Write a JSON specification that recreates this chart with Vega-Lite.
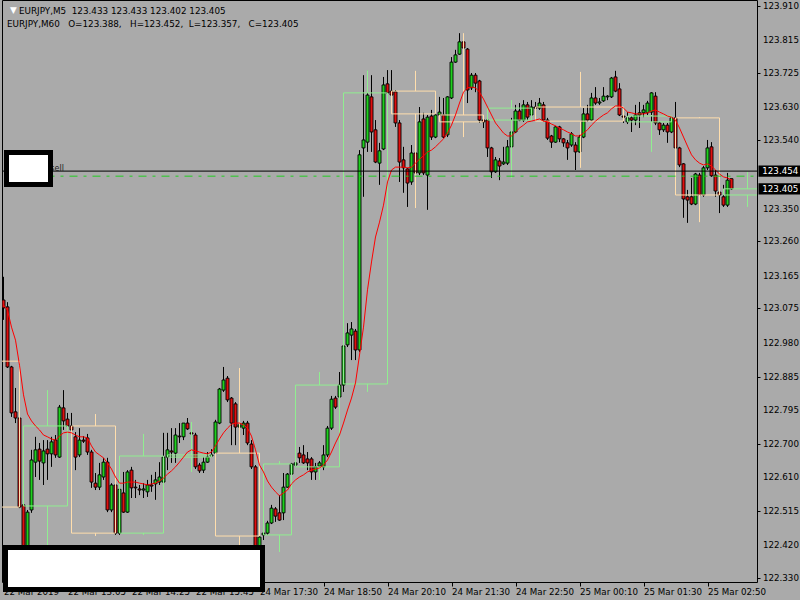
{
"$schema":"https://vega.github.io/schema/vega-lite/v6.json",
"width":755,"height":582,"autosize":"none",
"padding":{"left":2,"top":0,"right":43,"bottom":18},
"background":"#AAAAAA",
"config":{"view":{"stroke":"black","strokeWidth":1,"fill":"#AAAAAA"},"font":"DejaVu Sans",
"axis":{"labelFont":"DejaVu Sans","labelFontSize":8.7,"labelColor":"black","tickColor":"black","domain":false,"grid":false,"labelOverlap":false,"labelFlush":false}},
"datasets":{
"candles":[
{"i":0,"o":123.098,"h":123.162,"l":123.043,"c":123.076,"ma":123.084},
{"i":1,"o":123.079,"h":123.092,"l":122.910,"c":122.913,"ma":123.070},
{"i":2,"o":122.913,"h":122.916,"l":122.775,"c":122.786,"ma":123.023},
{"i":3,"o":122.789,"h":122.855,"l":122.758,"c":122.772,"ma":122.987},
{"i":4,"o":122.772,"h":122.778,"l":122.523,"c":122.526,"ma":122.918},
{"i":5,"o":122.532,"h":122.537,"l":122.352,"c":122.380,"ma":122.836},
{"i":6,"o":122.394,"h":122.518,"l":122.366,"c":122.512,"ma":122.783},
{"i":7,"o":122.518,"h":122.684,"l":122.510,"c":122.656,"ma":122.764},
{"i":8,"o":122.650,"h":122.720,"l":122.609,"c":122.684,"ma":122.750},
{"i":9,"o":122.686,"h":122.703,"l":122.601,"c":122.653,"ma":122.739},
{"i":10,"o":122.648,"h":122.711,"l":122.587,"c":122.681,"ma":122.725},
{"i":11,"o":122.686,"h":122.711,"l":122.601,"c":122.673,"ma":122.720},
{"i":12,"o":122.673,"h":122.720,"l":122.637,"c":122.706,"ma":122.714},
{"i":13,"o":122.711,"h":122.725,"l":122.662,"c":122.670,"ma":122.711},
{"i":14,"o":122.664,"h":122.808,"l":122.662,"c":122.802,"ma":122.722},
{"i":15,"o":122.800,"h":122.849,"l":122.739,"c":122.764,"ma":122.731},
{"i":16,"o":122.769,"h":122.786,"l":122.739,"c":122.750,"ma":122.733},
{"i":17,"o":122.750,"h":122.786,"l":122.720,"c":122.739,"ma":122.731},
{"i":18,"o":122.720,"h":122.733,"l":122.628,"c":122.664,"ma":122.725},
{"i":19,"o":122.670,"h":122.744,"l":122.664,"c":122.711,"ma":122.720},
{"i":20,"o":122.711,"h":122.722,"l":122.703,"c":122.708,"ma":122.720},
{"i":21,"o":122.717,"h":122.728,"l":122.670,"c":122.678,"ma":122.717},
{"i":22,"o":122.678,"h":122.684,"l":122.579,"c":122.595,"ma":122.695},
{"i":23,"o":122.592,"h":122.620,"l":122.573,"c":122.581,"ma":122.678},
{"i":24,"o":122.581,"h":122.648,"l":122.573,"c":122.615,"ma":122.670},
{"i":25,"o":122.609,"h":122.662,"l":122.601,"c":122.650,"ma":122.662},
{"i":26,"o":122.650,"h":122.662,"l":122.512,"c":122.518,"ma":122.648},
{"i":27,"o":122.518,"h":122.592,"l":122.512,"c":122.587,"ma":122.631},
{"i":28,"o":122.587,"h":122.587,"l":122.449,"c":122.454,"ma":122.609},
{"i":29,"o":122.454,"h":122.584,"l":122.449,"c":122.575,"ma":122.592},
{"i":30,"o":122.565,"h":122.623,"l":122.510,"c":122.512,"ma":122.592},
{"i":31,"o":122.512,"h":122.628,"l":122.510,"c":122.623,"ma":122.595},
{"i":32,"o":122.628,"h":122.637,"l":122.551,"c":122.579,"ma":122.595},
{"i":33,"o":122.581,"h":122.601,"l":122.551,"c":122.579,"ma":122.595},
{"i":34,"o":122.576,"h":122.587,"l":122.559,"c":122.573,"ma":122.592},
{"i":35,"o":122.573,"h":122.592,"l":122.551,"c":122.576,"ma":122.590},
{"i":36,"o":122.568,"h":122.601,"l":122.554,"c":122.587,"ma":122.587},
{"i":37,"o":122.587,"h":122.615,"l":122.568,"c":122.584,"ma":122.590},
{"i":38,"o":122.590,"h":122.623,"l":122.546,"c":122.601,"ma":122.592},
{"i":39,"o":122.595,"h":122.650,"l":122.587,"c":122.609,"ma":122.598},
{"i":40,"o":122.595,"h":122.731,"l":122.592,"c":122.664,"ma":122.606},
{"i":41,"o":122.664,"h":122.731,"l":122.628,"c":122.684,"ma":122.617},
{"i":42,"o":122.681,"h":122.744,"l":122.648,"c":122.678,"ma":122.626},
{"i":43,"o":122.675,"h":122.744,"l":122.648,"c":122.725,"ma":122.637},
{"i":44,"o":122.722,"h":122.758,"l":122.703,"c":122.720,"ma":122.650},
{"i":45,"o":122.720,"h":122.758,"l":122.711,"c":122.758,"ma":122.664},
{"i":46,"o":122.758,"h":122.772,"l":122.739,"c":122.742,"ma":122.678},
{"i":47,"o":122.731,"h":122.744,"l":122.722,"c":122.728,"ma":122.684},
{"i":48,"o":122.725,"h":122.731,"l":122.631,"c":122.637,"ma":122.681},
{"i":49,"o":122.642,"h":122.648,"l":122.620,"c":122.626,"ma":122.678},
{"i":50,"o":122.628,"h":122.664,"l":122.620,"c":122.650,"ma":122.675},
{"i":51,"o":122.650,"h":122.678,"l":122.648,"c":122.664,"ma":122.673},
{"i":52,"o":122.667,"h":122.686,"l":122.664,"c":122.670,"ma":122.678},
{"i":53,"o":122.675,"h":122.767,"l":122.673,"c":122.761,"ma":122.695},
{"i":54,"o":122.758,"h":122.855,"l":122.755,"c":122.852,"ma":122.714},
{"i":55,"o":122.849,"h":122.913,"l":122.844,"c":122.877,"ma":122.731},
{"i":56,"o":122.882,"h":122.888,"l":122.816,"c":122.822,"ma":122.744},
{"i":57,"o":122.827,"h":122.830,"l":122.697,"c":122.758,"ma":122.755},
{"i":58,"o":122.811,"h":122.816,"l":122.697,"c":122.747,"ma":122.758},
{"i":59,"o":122.747,"h":122.767,"l":122.711,"c":122.753,"ma":122.758},
{"i":60,"o":122.744,"h":122.764,"l":122.725,"c":122.758,"ma":122.753},
{"i":61,"o":122.758,"h":122.764,"l":122.697,"c":122.703,"ma":122.744},
{"i":62,"o":122.700,"h":122.711,"l":122.631,"c":122.637,"ma":122.722},
{"i":63,"o":122.637,"h":122.642,"l":122.366,"c":122.380,"ma":122.684},
{"i":64,"o":122.380,"h":122.449,"l":122.366,"c":122.443,"ma":122.642},
{"i":65,"o":122.449,"h":122.460,"l":122.435,"c":122.454,"ma":122.623},
{"i":66,"o":122.454,"h":122.488,"l":122.449,"c":122.482,"ma":122.598},
{"i":67,"o":122.482,"h":122.532,"l":122.479,"c":122.523,"ma":122.581},
{"i":68,"o":122.521,"h":122.526,"l":122.485,"c":122.501,"ma":122.568},
{"i":69,"o":122.510,"h":122.559,"l":122.488,"c":122.490,"ma":122.557},
{"i":70,"o":122.510,"h":122.620,"l":122.490,"c":122.581,"ma":122.565},
{"i":71,"o":122.581,"h":122.620,"l":122.579,"c":122.617,"ma":122.573},
{"i":72,"o":122.617,"h":122.648,"l":122.609,"c":122.645,"ma":122.590},
{"i":73,"o":122.642,"h":122.675,"l":122.637,"c":122.648,"ma":122.601},
{"i":74,"o":122.675,"h":122.692,"l":122.648,"c":122.662,"ma":122.609},
{"i":75,"o":122.670,"h":122.697,"l":122.645,"c":122.648,"ma":122.615},
{"i":76,"o":122.659,"h":122.678,"l":122.628,"c":122.648,"ma":122.623},
{"i":77,"o":122.659,"h":122.664,"l":122.601,"c":122.623,"ma":122.628},
{"i":78,"o":122.623,"h":122.648,"l":122.601,"c":122.637,"ma":122.631},
{"i":79,"o":122.639,"h":122.653,"l":122.628,"c":122.648,"ma":122.634},
{"i":80,"o":122.637,"h":122.697,"l":122.628,"c":122.670,"ma":122.642},
{"i":81,"o":122.670,"h":122.750,"l":122.664,"c":122.744,"ma":122.656},
{"i":82,"o":122.744,"h":122.833,"l":122.739,"c":122.824,"ma":122.678},
{"i":83,"o":122.827,"h":122.833,"l":122.797,"c":122.802,"ma":122.703},
{"i":84,"o":122.830,"h":122.899,"l":122.827,"c":122.863,"ma":122.725},
{"i":85,"o":122.863,"h":122.974,"l":122.844,"c":122.971,"ma":122.758},
{"i":86,"o":122.974,"h":123.034,"l":122.968,"c":123.007,"ma":122.794},
{"i":87,"o":123.001,"h":123.037,"l":122.932,"c":123.018,"ma":122.827},
{"i":88,"o":123.012,"h":123.018,"l":122.932,"c":122.960,"ma":122.869},
{"i":89,"o":122.960,"h":123.512,"l":122.954,"c":123.499,"ma":122.946},
{"i":90,"o":123.518,"h":123.719,"l":123.383,"c":123.540,"ma":123.023},
{"i":91,"o":123.534,"h":123.733,"l":123.507,"c":123.664,"ma":123.126},
{"i":92,"o":123.659,"h":123.719,"l":123.507,"c":123.562,"ma":123.203},
{"i":93,"o":123.568,"h":123.595,"l":123.476,"c":123.479,"ma":123.272},
{"i":94,"o":123.476,"h":123.532,"l":123.416,"c":123.510,"ma":123.313},
{"i":95,"o":123.515,"h":123.714,"l":123.512,"c":123.692,"ma":123.360},
{"i":96,"o":123.695,"h":123.733,"l":123.664,"c":123.670,"ma":123.424},
{"i":97,"o":123.675,"h":123.733,"l":123.617,"c":123.664,"ma":123.457},
{"i":98,"o":123.673,"h":123.678,"l":123.576,"c":123.587,"ma":123.465},
{"i":99,"o":123.587,"h":123.595,"l":123.424,"c":123.479,"ma":123.465},
{"i":100,"o":123.485,"h":123.521,"l":123.394,"c":123.463,"ma":123.465},
{"i":101,"o":123.460,"h":123.463,"l":123.355,"c":123.421,"ma":123.463},
{"i":102,"o":123.424,"h":123.526,"l":123.416,"c":123.504,"ma":123.465},
{"i":103,"o":123.504,"h":123.554,"l":123.443,"c":123.449,"ma":123.476},
{"i":104,"o":123.449,"h":123.631,"l":123.443,"c":123.590,"ma":123.487},
{"i":105,"o":123.598,"h":123.615,"l":123.443,"c":123.449,"ma":123.496},
{"i":106,"o":123.443,"h":123.609,"l":123.347,"c":123.603,"ma":123.507},
{"i":107,"o":123.606,"h":123.623,"l":123.540,"c":123.548,"ma":123.512},
{"i":108,"o":123.548,"h":123.617,"l":123.545,"c":123.609,"ma":123.521},
{"i":109,"o":123.609,"h":123.659,"l":123.595,"c":123.617,"ma":123.532},
{"i":110,"o":123.609,"h":123.656,"l":123.545,"c":123.548,"ma":123.543},
{"i":111,"o":123.554,"h":123.661,"l":123.548,"c":123.659,"ma":123.559},
{"i":112,"o":123.656,"h":123.769,"l":123.653,"c":123.755,"ma":123.581},
{"i":113,"o":123.755,"h":123.789,"l":123.753,"c":123.775,"ma":123.609},
{"i":114,"o":123.777,"h":123.835,"l":123.775,"c":123.811,"ma":123.642},
{"i":115,"o":123.811,"h":123.830,"l":123.775,"c":123.794,"ma":123.672},
{"i":116,"o":123.791,"h":123.794,"l":123.642,"c":123.678,"ma":123.684},
{"i":117,"o":123.684,"h":123.725,"l":123.678,"c":123.719,"ma":123.686},
{"i":118,"o":123.719,"h":123.725,"l":123.672,"c":123.697,"ma":123.684},
{"i":119,"o":123.703,"h":123.706,"l":123.587,"c":123.595,"ma":123.672},
{"i":120,"o":123.595,"h":123.603,"l":123.573,"c":123.590,"ma":123.653},
{"i":121,"o":123.595,"h":123.601,"l":123.493,"c":123.518,"ma":123.631},
{"i":122,"o":123.518,"h":123.521,"l":123.435,"c":123.452,"ma":123.609},
{"i":123,"o":123.452,"h":123.493,"l":123.449,"c":123.485,"ma":123.587},
{"i":124,"o":123.482,"h":123.490,"l":123.429,"c":123.468,"ma":123.573},
{"i":125,"o":123.474,"h":123.521,"l":123.471,"c":123.479,"ma":123.559},
{"i":126,"o":123.476,"h":123.540,"l":123.471,"c":123.521,"ma":123.551},
{"i":127,"o":123.521,"h":123.601,"l":123.512,"c":123.562,"ma":123.551},
{"i":128,"o":123.562,"h":123.637,"l":123.559,"c":123.620,"ma":123.562},
{"i":129,"o":123.620,"h":123.642,"l":123.592,"c":123.595,"ma":123.573},
{"i":130,"o":123.595,"h":123.650,"l":123.590,"c":123.637,"ma":123.581},
{"i":131,"o":123.637,"h":123.645,"l":123.595,"c":123.603,"ma":123.590},
{"i":132,"o":123.609,"h":123.650,"l":123.595,"c":123.631,"ma":123.592},
{"i":133,"o":123.631,"h":123.645,"l":123.617,"c":123.628,"ma":123.595},
{"i":134,"o":123.628,"h":123.656,"l":123.623,"c":123.642,"ma":123.598},
{"i":135,"o":123.637,"h":123.645,"l":123.590,"c":123.595,"ma":123.592},
{"i":136,"o":123.595,"h":123.601,"l":123.540,"c":123.545,"ma":123.590},
{"i":137,"o":123.551,"h":123.554,"l":123.518,"c":123.534,"ma":123.584},
{"i":138,"o":123.534,"h":123.579,"l":123.532,"c":123.576,"ma":123.579},
{"i":139,"o":123.576,"h":123.579,"l":123.534,"c":123.543,"ma":123.573},
{"i":140,"o":123.543,"h":123.545,"l":123.521,"c":123.532,"ma":123.568},
{"i":141,"o":123.532,"h":123.540,"l":123.485,"c":123.518,"ma":123.562},
{"i":142,"o":123.526,"h":123.562,"l":123.521,"c":123.557,"ma":123.557},
{"i":143,"o":123.526,"h":123.534,"l":123.457,"c":123.507,"ma":123.551},
{"i":144,"o":123.507,"h":123.554,"l":123.505,"c":123.548,"ma":123.551},
{"i":145,"o":123.548,"h":123.628,"l":123.545,"c":123.612,"ma":123.559},
{"i":146,"o":123.612,"h":123.637,"l":123.590,"c":123.595,"ma":123.568},
{"i":147,"o":123.595,"h":123.670,"l":123.592,"c":123.656,"ma":123.581},
{"i":148,"o":123.656,"h":123.686,"l":123.637,"c":123.642,"ma":123.592},
{"i":149,"o":123.642,"h":123.656,"l":123.637,"c":123.645,"ma":123.601},
{"i":150,"o":123.648,"h":123.686,"l":123.645,"c":123.661,"ma":123.609},
{"i":151,"o":123.659,"h":123.664,"l":123.650,"c":123.661,"ma":123.615},
{"i":152,"o":123.659,"h":123.714,"l":123.656,"c":123.711,"ma":123.626},
{"i":153,"o":123.714,"h":123.731,"l":123.672,"c":123.675,"ma":123.634},
{"i":154,"o":123.681,"h":123.697,"l":123.606,"c":123.609,"ma":123.634},
{"i":155,"o":123.606,"h":123.623,"l":123.587,"c":123.603,"ma":123.628},
{"i":156,"o":123.590,"h":123.617,"l":123.584,"c":123.601,"ma":123.617},
{"i":157,"o":123.601,"h":123.606,"l":123.562,"c":123.595,"ma":123.615},
{"i":158,"o":123.595,"h":123.637,"l":123.581,"c":123.609,"ma":123.612},
{"i":159,"o":123.609,"h":123.645,"l":123.573,"c":123.615,"ma":123.612},
{"i":160,"o":123.615,"h":123.637,"l":123.603,"c":123.623,"ma":123.612},
{"i":161,"o":123.615,"h":123.648,"l":123.609,"c":123.642,"ma":123.615},
{"i":162,"o":123.617,"h":123.672,"l":123.590,"c":123.670,"ma":123.620},
{"i":163,"o":123.661,"h":123.672,"l":123.581,"c":123.587,"ma":123.623},
{"i":164,"o":123.587,"h":123.590,"l":123.554,"c":123.568,"ma":123.617},
{"i":165,"o":123.568,"h":123.587,"l":123.562,"c":123.581,"ma":123.612},
{"i":166,"o":123.581,"h":123.587,"l":123.532,"c":123.562,"ma":123.606},
{"i":167,"o":123.562,"h":123.603,"l":123.559,"c":123.601,"ma":123.603},
{"i":168,"o":123.601,"h":123.645,"l":123.515,"c":123.518,"ma":123.595},
{"i":169,"o":123.518,"h":123.521,"l":123.465,"c":123.471,"ma":123.573},
{"i":170,"o":123.474,"h":123.476,"l":123.325,"c":123.377,"ma":123.548},
{"i":171,"o":123.383,"h":123.402,"l":123.311,"c":123.374,"ma":123.523},
{"i":172,"o":123.383,"h":123.435,"l":123.360,"c":123.363,"ma":123.499},
{"i":173,"o":123.363,"h":123.449,"l":123.360,"c":123.446,"ma":123.485},
{"i":174,"o":123.443,"h":123.449,"l":123.383,"c":123.388,"ma":123.476},
{"i":175,"o":123.388,"h":123.468,"l":123.383,"c":123.463,"ma":123.471},
{"i":176,"o":123.463,"h":123.540,"l":123.457,"c":123.518,"ma":123.474},
{"i":177,"o":123.521,"h":123.534,"l":123.438,"c":123.441,"ma":123.468},
{"i":178,"o":123.443,"h":123.457,"l":123.383,"c":123.399,"ma":123.457},
{"i":179,"o":123.396,"h":123.402,"l":123.338,"c":123.388,"ma":123.446},
{"i":180,"o":123.383,"h":123.416,"l":123.355,"c":123.360,"ma":123.438},
{"i":181,"o":123.360,"h":123.449,"l":123.355,"c":123.429,"ma":123.435},
{"i":182,"o":123.433,"h":123.433,"l":123.402,"c":123.405,"ma":123.429}
],
"boxes":[
{"i0":-7,"i1":4,"wi":-1.5,"top":122.929,"bot":122.526,"hi":122.929,"lo":122.526,"k":"down"},
{"i0":5,"i1":16,"wi":11,"top":122.750,"bot":122.529,"hi":122.849,"lo":122.407,"k":"up"},
{"i0":17,"i1":28,"wi":23,"top":122.750,"bot":122.454,"hi":122.783,"lo":122.446,"k":"down"},
{"i0":29,"i1":40,"wi":35,"top":122.667,"bot":122.454,"hi":122.728,"lo":122.449,"k":"up"},
{"i0":41,"i1":52,"wi":47,"top":122.670,"bot":122.664,"hi":122.761,"lo":122.623,"k":"up"},
{"i0":53,"i1":64,"wi":59,"top":122.675,"bot":122.446,"hi":122.910,"lo":122.380,"k":"down"},
{"i0":65,"i1":72,"wi":69,"top":122.645,"bot":122.449,"hi":122.653,"lo":122.402,"k":"up"},
{"i0":73,"i1":84,"wi":79,"top":122.863,"bot":122.637,"hi":122.899,"lo":122.601,"k":"up"},
{"i0":85,"i1":96,"wi":91,"top":123.670,"bot":122.866,"hi":123.733,"lo":122.844,"k":"up"},
{"i0":97,"i1":108,"wi":103,"top":123.675,"bot":123.612,"hi":123.731,"lo":123.352,"k":"down"},
{"i0":109,"i1":120,"wi":115,"top":123.609,"bot":123.590,"hi":123.835,"lo":123.548,"k":"down"},
{"i0":121,"i1":132,"wi":127,"top":123.628,"bot":123.595,"hi":123.650,"lo":123.435,"k":"up"},
{"i0":133,"i1":155,"wi":144.25,"top":123.631,"bot":123.592,"hi":123.728,"lo":123.463,"k":"down"},
{"i0":156,"i1":167,"wi":162,"top":123.606,"bot":123.590,"hi":123.609,"lo":123.507,"k":"up"},
{"i0":168,"i1":179,"wi":174,"top":123.601,"bot":123.388,"hi":123.603,"lo":123.313,"k":"down"},
{"i0":180,"i1":191,"wi":186,"top":123.405,"bot":123.388,"hi":123.452,"lo":123.355,"k":"up"}
],
"ylabels":[
{"p":123.910},{"p":123.815},{"p":123.725},{"p":123.630},{"p":123.540},{"p":123.350},{"p":123.260},{"p":123.165},{"p":123.075},{"p":122.980},{"p":122.885},{"p":122.795},{"p":122.700},{"p":122.610},{"p":122.515},{"p":122.420},{"p":122.330}
]
},
"layer":[
{"data":{"name":"candles"},"mark":{"type":"rule","color":"black","strokeWidth":1,"clip":true},
 "encoding":{
  "x":{"field":"i","type":"quantitative","title":null,"scale":{"domain":[-0.375,188.375],"nice":false,"zero":false,"padding":0},
   "axis":{"orient":"bottom","values":[0,16,32,48,64,80,96,112,128,144,160,176],
    "labelExpr":"['22 Mar 2019','22 Mar 13:05','22 Mar 14:25','22 Mar 15:45','24 Mar 17:30','24 Mar 18:50','24 Mar 20:10','24 Mar 21:30','24 Mar 22:50','25 Mar 00:10','25 Mar 01:30','25 Mar 02:50'][round(datum.value/16)]",
    "labelAlign":"left","labelBaseline":"top","tickSize":4,"labelPadding":1,"labelFlush":false,"labelOverlap":false}},
  "y":{"field":"h","type":"quantitative","title":null,"scale":{"domain":[122.319,123.9266],"nice":false,"zero":false,"padding":0},
   "axis":{"orient":"right","values":[123.910,123.815,123.725,123.630,123.540,123.350,123.260,123.165,123.075,122.980,122.885,122.795,122.700,122.610,122.515,122.420,122.330],
    "labels":false,"tickSize":3}},
  "y2":{"field":"l"}}},
{"data":{"name":"candles"},"mark":{"type":"bar","size":3,"stroke":"black","strokeWidth":0.9,"clip":true},
 "encoding":{"x":{"field":"i","type":"quantitative","title":null},"y":{"field":"o","type":"quantitative","title":null},"y2":{"field":"c"},
  "fill":{"condition":{"test":"datum.c > datum.o","value":"#1FD01F"},"value":"#E01010"}}},
{"data":{"name":"boxes"},"mark":{"type":"rect","filled":false,"strokeWidth":1,"clip":true},
 "encoding":{"x":{"field":"i0","type":"quantitative","title":null},"x2":{"field":"i1"},"y":{"field":"top","type":"quantitative","title":null},"y2":{"field":"bot"},
  "stroke":{"condition":{"test":"datum.k == 'up'","value":"#90EE90"},"value":"#FFDEAD"}}},
{"data":{"name":"boxes"},"mark":{"type":"rule","strokeWidth":1,"clip":true},
 "encoding":{"x":{"field":"wi","type":"quantitative","title":null},"y":{"field":"hi","type":"quantitative","title":null},"y2":{"field":"top"},
  "color":{"condition":{"test":"datum.k == 'up'","value":"#90EE90"},"value":"#FFDEAD"}}},
{"data":{"name":"boxes"},"mark":{"type":"rule","strokeWidth":1,"clip":true},
 "encoding":{"x":{"field":"wi","type":"quantitative","title":null},"y":{"field":"bot","type":"quantitative","title":null},"y2":{"field":"lo"},
  "color":{"condition":{"test":"datum.k == 'up'","value":"#90EE90"},"value":"#FFDEAD"}}},
{"data":{"name":"candles"},"mark":{"type":"line","color":"#FF0000","strokeWidth":1,"clip":true},
 "encoding":{"x":{"field":"i","type":"quantitative","title":null},"y":{"field":"ma","type":"quantitative","title":null}}},
{"data":{"values":[{"p":123.454}]},"mark":{"type":"rule","color":"black","strokeWidth":1,"clip":true},
 "encoding":{"y":{"field":"p","type":"quantitative","title":null}}},
{"data":{"values":[{"p":123.440,"a":5,"b":188.375}]},"mark":{"type":"rule","color":"#22CC22","strokeWidth":1,"strokeDash":[8,6,3,6],"clip":true},
 "encoding":{"x":{"field":"a","type":"quantitative","title":null},"x2":{"field":"b"},"y":{"field":"p","type":"quantitative","title":null}}},
{"data":{"values":[{"a":15.1,"p":123.460,"t":"sell"}]},"mark":{"type":"text","align":"right","baseline":"middle","fontSize":8,"color":"#222222"},
 "encoding":{"x":{"field":"a","type":"quantitative","title":null},"y":{"field":"p","type":"quantitative","title":null},"text":{"field":"t"}}},
{"data":{"values":[{"a":0.75,"b":11.75,"t":123.5054,"u":123.4170},{"a":0.5,"b":64.75,"t":122.4143,"u":122.2983}]},
 "mark":{"type":"rect","fill":"white","stroke":"black","strokeWidth":5,"clip":false},
 "encoding":{"x":{"field":"a","type":"quantitative","title":null},"x2":{"field":"b"},"y":{"field":"t","type":"quantitative","title":null},"y2":{"field":"u"}}},
{"data":{"name":"ylabels"},"mark":{"type":"text","align":"left","baseline":"middle","fontSize":8.7,"color":"black","clip":false},
 "encoding":{"x":{"datum":189.875,"type":"quantitative"},"y":{"field":"p","type":"quantitative","title":null},"text":{"field":"p","type":"quantitative","format":".3f"}}},
{"data":{"values":[{"a":188.75,"b":199.5,"t":123.4695,"u":123.4385},{"a":188.75,"b":199.5,"t":123.4205,"u":123.3895}]},
 "mark":{"type":"rect","fill":"black","clip":false},
 "encoding":{"x":{"field":"a","type":"quantitative","title":null},"x2":{"field":"b"},"y":{"field":"t","type":"quantitative","title":null},"y2":{"field":"u"}}},
{"data":{"values":[{"a":189.7,"p":123.454,"t":"123.454"},{"a":189.7,"p":123.405,"t":"123.405"}]},
 "mark":{"type":"text","align":"left","baseline":"middle","fontSize":8.7,"color":"white","clip":false},
 "encoding":{"x":{"field":"a","type":"quantitative","title":null},"y":{"field":"p","type":"quantitative","title":null},"text":{"field":"t"}}},
{"data":{"values":[{"a":1.625,"p":123.899,"t":"▼","c":"w"},{"a":3.875,"p":123.896,"t":"EURJPY,M5\u00a0\u00a0123.433 123.433 123.402 123.405","c":"b"},{"a":0.875,"p":123.860,"t":"EURJPY,M60\u00a0\u00a0\u00a0O=123.388,\u00a0\u00a0\u00a0H=123.452,\u00a0\u00a0L=123.357,\u00a0\u00a0\u00a0C=123.405","c":"b"}]},
 "mark":{"type":"text","align":"left","baseline":"middle","fontSize":8.8,"clip":false},
 "encoding":{"x":{"field":"a","type":"quantitative","title":null},"y":{"field":"p","type":"quantitative","title":null},"text":{"field":"t"},
  "color":{"condition":{"test":"datum.c == 'w'","value":"white"},"value":"black"}}}
]
}
